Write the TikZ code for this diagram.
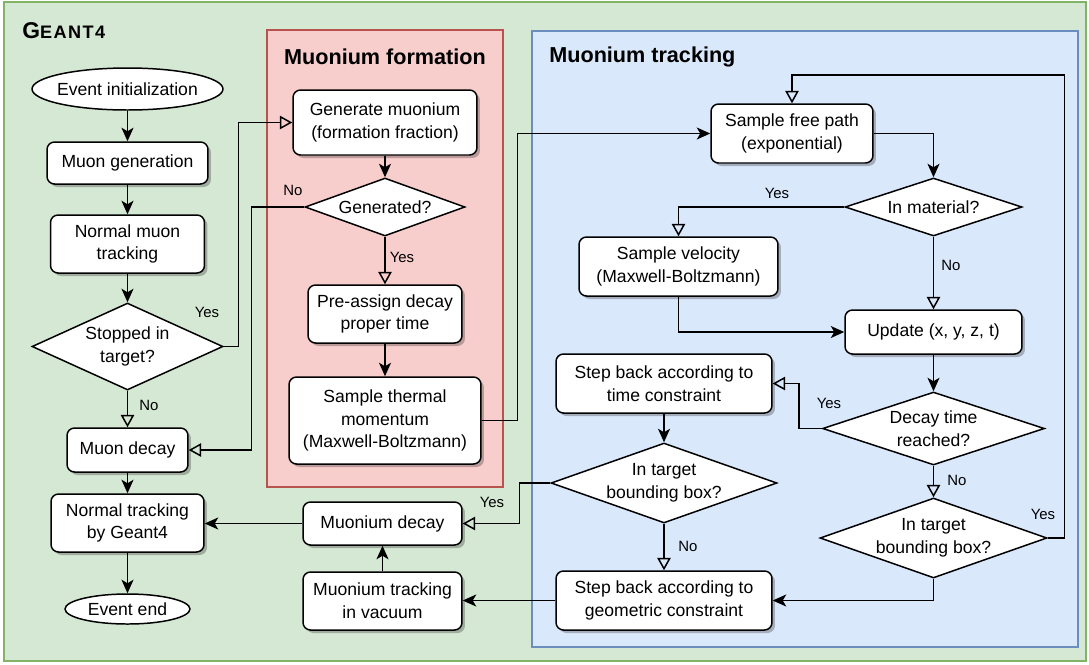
\documentclass[tikz,border=0pt]{standalone}
\usepackage{fontspec}
\setmainfont{Liberation Sans}
\usepackage{xcolor}
\usetikzlibrary{shapes.geometric, arrows.meta, shadows}

\definecolor{geantfill}{HTML}{D5E8D4}
\definecolor{geantline}{HTML}{82B366}
\definecolor{formfill}{HTML}{F8CECC}
\definecolor{formline}{HTML}{B85450}
\definecolor{trackfill}{HTML}{DAE8FC}
\definecolor{trackline}{HTML}{6C8EBF}

% text that does not widen its node
\newcommand{\nowidth}[1]{\makebox[0pt]{#1}}

\begin{document}
\begin{tikzpicture}[x=0.02cm, y=-0.02cm,
        font=\fontsize{10}{13}\selectfont,
        box/.style={rectangle, draw=black, fill=white, rounded corners=0.15cm, line width=0.85pt, align=center, inner sep=2pt,
            drop shadow={shadow xshift=0.06cm, shadow yshift=-0.06cm, opacity=0.25, fill=black}},
        term/.style={ellipse, draw=black, fill=white, line width=0.85pt, inner sep=0pt, align=center},
        dec/.style={diamond, draw=black, fill=white, line width=0.85pt, inner sep=0pt, align=center},
        lbl/.style={font=\fontsize{8.5}{10}\selectfont, inner sep=0pt},
        arr/.style={-{Stealth[length=0.27cm, width=0.24cm, inset=0.07cm]}, line width=0.85pt},
        oarr/.style={-{Triangle[open, length=0.25cm, width=0.27cm]}, line width=0.85pt},
        frame/.style={rectangle, line width=0.85pt}
    ]
        \useasboundingbox (0,0) rectangle (1089,664);
        \fill[white] (0,0) rectangle (1089,664);

        % ================= GROUPS =================
        \draw[frame, draw=geantline, fill=geantfill] (4,2) rectangle (1086,661);
        \draw[frame, draw=formline, fill=formfill] (267,30) rectangle (503,487);
        \draw[frame, draw=trackline, fill=trackfill] (532,31) rectangle (1078,647);

        \node[anchor=base west, inner sep=0pt, font=\bfseries] (geant) at (22,38)
            {\fontsize{13}{15}\selectfont G\fontsize{10.3}{12}\selectfont\addfontfeatures{LetterSpace=8}EANT4};
        \node[font=\fontsize{12.3}{15}\selectfont\bfseries] (formtitle) at (385,57) {Muonium formation};
        \node[anchor=west, inner sep=0pt, font=\fontsize{12.3}{15}\selectfont\bfseries] (tracktitle) at (549,57) {Muonium tracking};

        % ================= GEANT4 =================
        \node[term, minimum width=3.82cm, minimum height=0.84cm] (init) at (127.5,89) {\nowidth{Event initialization}};
        \node[box, minimum width=3.22cm, minimum height=0.84cm] (mugen) at (127.5,163) {Muon generation};
        \node[box, minimum width=3.08cm, minimum height=1.16cm] (mutrack) at (127.5,244) {Normal muon\\tracking};
        \node[dec, minimum width=3.82cm, minimum height=1.74cm] (stopped) at (127.5,346.5) {\nowidth{Stopped in}\\\nowidth{target?}};
        \node[box, minimum width=2.42cm, minimum height=0.88cm] (mudecay) at (127.5,450) {Muon decay};
        \node[box, minimum width=3.06cm, minimum height=1.16cm] (normtrack) at (127.5,523) {Normal tracking\\by Geant4};
        \node[term, minimum width=2.5cm, minimum height=0.6cm] (evend) at (127.5,609) {\nowidth{Event end}};

        % ================= MUONIUM FORMATION =================
        \node[box, minimum width=3.68cm, minimum height=1.3cm] (genmu) at (385,122.5) {Generate muonium\\(formation fraction)};
        \node[dec, minimum width=3.2cm, minimum height=1.16cm] (generated) at (385,207) {\nowidth{Generated?}};
        \node[box, minimum width=3.08cm, minimum height=1.16cm] (preassign) at (385,314) {Pre-assign decay\\proper time};
        \node[box, minimum width=3.84cm, minimum height=1.74cm] (thermal) at (385,420.5) {Sample thermal\\momentum\\(Maxwell-Boltzmann)};

        \node[box, minimum width=3.18cm, minimum height=0.86cm] (mudec) at (382.5,523.5) {Muonium decay};
        \node[box, minimum width=3.18cm, minimum height=1.16cm] (muvac) at (382.5,601) {Muonium tracking\\in vacuum};

        % ================= MUONIUM TRACKING =================
        \node[box, minimum width=3.24cm, minimum height=1.18cm] (freepath) at (792,133.5) {Sample free path\\(exponential)};
        \node[dec, minimum width=3.54cm, minimum height=1.16cm] (inmat) at (933.5,207) {\nowidth{In material?}};
        \node[box, minimum width=3.98cm, minimum height=1.18cm] (velocity) at (678.5,266.5) {Sample velocity\\(Maxwell-Boltzmann)};
        \node[box, minimum width=3.54cm, minimum height=0.88cm] (update) at (933.5,332) {Update (x, y, z, t)};
        \node[dec, minimum width=4.44cm, minimum height=1.46cm] (decaytime) at (933.5,428.5) {\nowidth{Decay time}\\\nowidth{reached?}};
        \node[box, minimum width=4.32cm, minimum height=1.18cm] (steptime) at (664,383.5) {Step back according to\\time constraint};
        \node[dec, minimum width=4.52cm, minimum height=1.6cm] (bboxa) at (664,483) {\nowidth{In target}\\\nowidth{bounding box?}};
        \node[box, minimum width=4.32cm, minimum height=1.18cm] (stepgeo) at (664,600.5) {Step back according to\\geometric constraint};
        \node[dec, minimum width=4.54cm, minimum height=1.6cm] (bboxb) at (933.5,538) {\nowidth{In target}\\\nowidth{bounding box?}};

        % ================= CONNECTORS =================
        \draw[arr] (init) -- (mugen);
        \draw[arr] (mugen) -- (mutrack);
        \draw[arr] (mutrack) -- (stopped);
        \draw[oarr] (stopped) -- (mudecay);
        \draw[oarr] (stopped.east) -- ++(15,0) |- (genmu.west);
        \draw[arr] (mudecay) -- (normtrack);
        \draw[arr] (normtrack) -- (evend);

        \draw[arr] (genmu) -- (generated);
        \draw[oarr] (generated.west) -- ++(-53,0) |- (mudecay.east);
        \draw[oarr] (generated) -- (preassign);
        \draw[arr] (preassign) -- (thermal);
        \draw[arr] (thermal.east) -- ++(36,0) |- (freepath.west);

        \draw[arr] (freepath.east) -| (inmat.north);
        \draw[oarr] (inmat.west) -| (velocity.north);
        \draw[oarr] (inmat) -- (update);
        \draw[arr] (velocity.south) |- (update.west);
        \draw[arr] (update) -- (decaytime);
        \draw[oarr] (decaytime.west) -- ++(-23,0) |- (steptime.east);
        \draw[oarr] (decaytime) -- (bboxb);
        \draw[arr] (steptime) -- (bboxa);
        \draw[oarr] (bboxa) -- (stepgeo);
        \draw[oarr] (bboxa.west) -- ++(-31,0) |- (mudec.east);
        \draw[oarr] (bboxb.east) -- ++(17,0) -- ++(0,-463) -| (freepath.north);
        \draw[arr] (bboxb.south) |- (stepgeo.east);
        \draw[arr] (stepgeo.west) -- (stepgeo.west -| muvac.east);

        \draw[arr] (muvac) -- (mudec);
        \draw[arr] (mudec.west) -- (mudec.west -| normtrack.east);

        % branch labels
        \node[lbl] (ystop) at (207,312) {Yes};
        \node[lbl] (nstop) at (149,405) {No};
        \node[lbl] (ngen) at (293,190) {No};
        \node[lbl] (ygen) at (402,257) {Yes};
        \node[lbl] (ymat) at (777,193) {Yes};
        \node[lbl] (nmat) at (951,265) {No};
        \node[lbl] (ytime) at (829,403) {Yes};
        \node[lbl] (ntime) at (957,480) {No};
        \node[lbl] (ybboxa) at (492,502) {Yes};
        \node[lbl] (nbboxa) at (688,546) {No};
        \node[lbl] (ybboxb) at (1043,514) {Yes};
    \end{tikzpicture}
\end{document}
